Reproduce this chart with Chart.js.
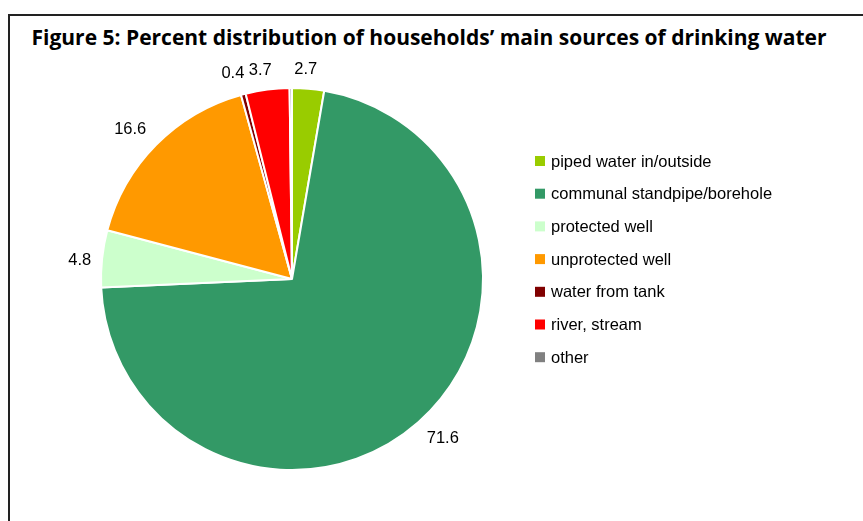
<!DOCTYPE html>
<html>
<head>
<meta charset="utf-8">
<script src="https://cdn.jsdelivr.net/npm/chart.js@4"></script>
<style>
  html, body { margin: 0; padding: 0; background: #fff; overflow: hidden; }
  #marco { position: absolute; left: 8px; top: 14px; width: 900px; height: 600px; border: 2px solid #222; box-sizing: border-box; }
  #titulo { position: absolute; left: 0; width: 858px; top: 24px; text-align: center; white-space: nowrap;
            font: bold 21px "Open Sans", sans-serif; color: #000; line-height: 26px; }
  #grafico { position: absolute; left: 0; top: 0; }
</style>
</head>
<body>
<div id="marco"></div>
<div id="titulo">Figure 5: Percent distribution of households’ main sources of drinking water</div>
<canvas id="grafico" width="863" height="521"></canvas>
<script>
// Fuentes de agua (en el orden de las porciones, empezando arriba y en sentido horario)
const categorias = [
  "piped water in/outside",
  "communal standpipe/borehole",
  "protected well",
  "unprotected well",
  "water from tank",
  "river, stream",
  "other"
];
// Porcentaje de hogares
const porcentajes = [2.7, 71.6, 4.8, 16.6, 0.4, 3.7, 0.2];
const colores = ["#99CC00", "#339966", "#CCFFCC", "#FF9900", "#800000", "#FF0000", "#808080"];
// "other" no lleva etiqueta
const mostrarEtiqueta = [true, true, true, true, true, true, false];

const fuente = '16.5px "Liberation Sans", Arial, sans-serif';

// Escribe el valor de cada porción por fuera del pastel
const etiquetasPlugin = {
  id: "etiquetas",
  afterDatasetsDraw(chart) {
    const ctx = chart.ctx;
    const meta = chart.getDatasetMeta(0);
    ctx.save();
    ctx.font = fuente;
    ctx.fillStyle = "#000";
    ctx.textAlign = "center";
    ctx.textBaseline = "middle";
    meta.data.forEach((arco, i) => {
      if (!mostrarEtiqueta[i]) return;
      const p = arco.getProps(["x", "y", "startAngle", "endAngle", "outerRadius"], true);
      const ang = (p.startAngle + p.endAngle) / 2 - 0.02;
      const dx = Math.cos(ang), dy = Math.sin(ang);
      const texto = porcentajes[i].toFixed(1);
      const ancho = ctx.measureText(texto).width;
      // en las diagonales la caja del texto necesita un poco más de separación
      const dist = p.outerRadius + 12 + 8 * Math.abs(Math.sin(2 * ang));
      ctx.fillText(texto, p.x + dx * dist + dx * ancho * 0.375, p.y + dy * dist + dy * 6);
    });
    ctx.restore();
  }
};

// Leyenda a la derecha del pastel: cuadrito de color + nombre
const leyendaPlugin = {
  id: "leyenda",
  afterDraw(chart) {
    const ctx = chart.ctx;
    const x = chart.chartArea.right - 49;
    const y0 = 161;
    const paso = 32.7;
    ctx.save();
    ctx.font = fuente;
    ctx.textBaseline = "middle";
    chart.data.labels.forEach((nombre, i) => {
      const y = y0 + i * paso;
      ctx.fillStyle = chart.data.datasets[0].backgroundColor[i];
      ctx.fillRect(x, y - 5, 10, 10);
      ctx.fillStyle = "#000";
      ctx.fillText(nombre, x + 16, y + 1);
    });
    ctx.restore();
  }
};

const ctx = document.getElementById("grafico").getContext("2d");
const chart = new Chart(ctx, {
  type: "pie",
  data: {
    labels: categorias,
    datasets: [{
      data: porcentajes,
      backgroundColor: colores,
      borderColor: "#fff",
      borderWidth: 2
    }]
  },
  options: {
    responsive: false,
    animation: false,
    // el área del pastel queda a la izquierda; la leyenda va en el margen derecho
    layout: { padding: { top: 87, bottom: 50, left: 0, right: 279 } },
    plugins: {
      legend: { display: false },
      title: { display: false },
      tooltip: { enabled: false }
    }
  },
  plugins: [etiquetasPlugin, leyendaPlugin]
});
</script>
</body>
</html>
